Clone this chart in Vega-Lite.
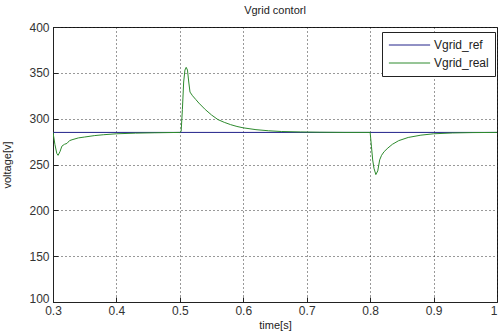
{
  "$schema": "https://vega.github.io/schema/vega-lite/v6.json",
  "width": 444,
  "height": 275,
  "autosize": "none",
  "padding": {"left": 53, "top": 27, "right": 1, "bottom": 31},
  "background": "white",
  "title": {"text": "Vgrid contorl", "fontSize": 11, "font": "Liberation Sans", "fontWeight": "normal", "color": "#222", "offset": 5},
  "config": {
    "view": {"stroke": "#222", "strokeWidth": 1},
    "axis": {"labelFont": "Liberation Sans", "titleFont": "Liberation Sans", "labelFontSize": 12, "labelColor": "#333", "titleFontSize": 11, "titleFontWeight": "normal", "titleColor": "#222", "domainColor": "#222", "tickColor": "#222", "gridColor": "#000", "gridDash": [1, 3], "gridOpacity": 0.8, "tickSize": -5}
  },
  "data": {"values": [
    {"t": 0.3, "v": 285, "s": "Vgrid_ref"},
    {"t": 1.0, "v": 285, "s": "Vgrid_ref"},
    {"t": 0.300, "v": 285, "s": "Vgrid_real"},
    {"t": 0.303, "v": 272, "s": "Vgrid_real"},
    {"t": 0.306, "v": 262, "s": "Vgrid_real"},
    {"t": 0.308, "v": 260, "s": "Vgrid_real"},
    {"t": 0.311, "v": 264, "s": "Vgrid_real"},
    {"t": 0.314, "v": 270, "s": "Vgrid_real"},
    {"t": 0.318, "v": 272, "s": "Vgrid_real"},
    {"t": 0.322, "v": 273, "s": "Vgrid_real"},
    {"t": 0.326, "v": 276, "s": "Vgrid_real"},
    {"t": 0.330, "v": 277, "s": "Vgrid_real"},
    {"t": 0.340, "v": 279, "s": "Vgrid_real"},
    {"t": 0.350, "v": 280, "s": "Vgrid_real"},
    {"t": 0.365, "v": 281.5, "s": "Vgrid_real"},
    {"t": 0.380, "v": 282.5, "s": "Vgrid_real"},
    {"t": 0.400, "v": 283.5, "s": "Vgrid_real"},
    {"t": 0.430, "v": 284.2, "s": "Vgrid_real"},
    {"t": 0.460, "v": 284.6, "s": "Vgrid_real"},
    {"t": 0.500, "v": 285, "s": "Vgrid_real"},
    {"t": 0.502, "v": 286, "s": "Vgrid_real"},
    {"t": 0.504, "v": 310, "s": "Vgrid_real"},
    {"t": 0.506, "v": 340, "s": "Vgrid_real"},
    {"t": 0.508, "v": 353, "s": "Vgrid_real"},
    {"t": 0.510, "v": 356, "s": "Vgrid_real"},
    {"t": 0.512, "v": 353, "s": "Vgrid_real"},
    {"t": 0.514, "v": 340, "s": "Vgrid_real"},
    {"t": 0.516, "v": 329, "s": "Vgrid_real"},
    {"t": 0.520, "v": 325, "s": "Vgrid_real"},
    {"t": 0.525, "v": 321, "s": "Vgrid_real"},
    {"t": 0.530, "v": 317, "s": "Vgrid_real"},
    {"t": 0.540, "v": 310, "s": "Vgrid_real"},
    {"t": 0.550, "v": 304, "s": "Vgrid_real"},
    {"t": 0.560, "v": 299, "s": "Vgrid_real"},
    {"t": 0.570, "v": 296, "s": "Vgrid_real"},
    {"t": 0.580, "v": 293.5, "s": "Vgrid_real"},
    {"t": 0.590, "v": 291.5, "s": "Vgrid_real"},
    {"t": 0.600, "v": 290, "s": "Vgrid_real"},
    {"t": 0.620, "v": 288, "s": "Vgrid_real"},
    {"t": 0.640, "v": 286.8, "s": "Vgrid_real"},
    {"t": 0.660, "v": 286, "s": "Vgrid_real"},
    {"t": 0.690, "v": 285.5, "s": "Vgrid_real"},
    {"t": 0.720, "v": 285.2, "s": "Vgrid_real"},
    {"t": 0.760, "v": 285, "s": "Vgrid_real"},
    {"t": 0.800, "v": 285, "s": "Vgrid_real"},
    {"t": 0.802, "v": 270, "s": "Vgrid_real"},
    {"t": 0.804, "v": 255, "s": "Vgrid_real"},
    {"t": 0.806, "v": 246, "s": "Vgrid_real"},
    {"t": 0.809, "v": 239, "s": "Vgrid_real"},
    {"t": 0.812, "v": 243, "s": "Vgrid_real"},
    {"t": 0.815, "v": 255, "s": "Vgrid_real"},
    {"t": 0.818, "v": 260, "s": "Vgrid_real"},
    {"t": 0.822, "v": 264, "s": "Vgrid_real"},
    {"t": 0.828, "v": 268, "s": "Vgrid_real"},
    {"t": 0.835, "v": 272, "s": "Vgrid_real"},
    {"t": 0.845, "v": 276, "s": "Vgrid_real"},
    {"t": 0.860, "v": 279.5, "s": "Vgrid_real"},
    {"t": 0.880, "v": 282, "s": "Vgrid_real"},
    {"t": 0.900, "v": 283.5, "s": "Vgrid_real"},
    {"t": 0.930, "v": 284.4, "s": "Vgrid_real"},
    {"t": 0.960, "v": 284.8, "s": "Vgrid_real"},
    {"t": 1.000, "v": 285, "s": "Vgrid_real"}
  ]},
  "mark": {"type": "line", "strokeWidth": 1, "clip": true},
  "encoding": {
    "x": {"field": "t", "type": "quantitative", "scale": {"domain": [0.3, 1.0], "nice": false, "zero": false},
      "axis": {"title": "time[s]", "values": [0.3, 0.4, 0.5, 0.6, 0.7, 0.8, 0.9, 1.0], "labelExpr": "datum.value == 1 ? '1' : format(datum.value, '.1f')", "labelAlign": {"condition": {"test": "datum.value == 1", "value": "right"}, "value": "center"}, "labelPadding": 8, "titlePadding": 3, "labelFlush": false}},
    "y": {"field": "v", "type": "quantitative", "scale": {"domain": [100, 400], "nice": false, "zero": false},
      "axis": {"title": "voltage[v]", "values": [100, 150, 200, 250, 300, 350, 400], "labelBaseline": {"condition": {"test": "datum.value == 100", "value": "alphabetic"}, "value": "middle"}, "labelPadding": 9, "titlePadding": 16, "labelFlush": false}},
    "color": {"field": "s", "type": "nominal", "sort": ["Vgrid_ref", "Vgrid_real"],
      "scale": {"domain": ["Vgrid_ref", "Vgrid_real"], "range": ["#22228a", "#2e8b2e"]},
      "legend": {"title": null, "orient": "none", "legendX": 329, "legendY": 5, "symbolType": "stroke", "symbolSize": 1700, "symbolStrokeWidth": 1, "clipHeight": 14, "labelFont": "Liberation Sans", "labelFontSize": 12, "labelColor": "#222", "strokeColor": "#222", "fillColor": "white", "padding": 6, "rowPadding": 4, "labelOffset": 3}}
  }
}
